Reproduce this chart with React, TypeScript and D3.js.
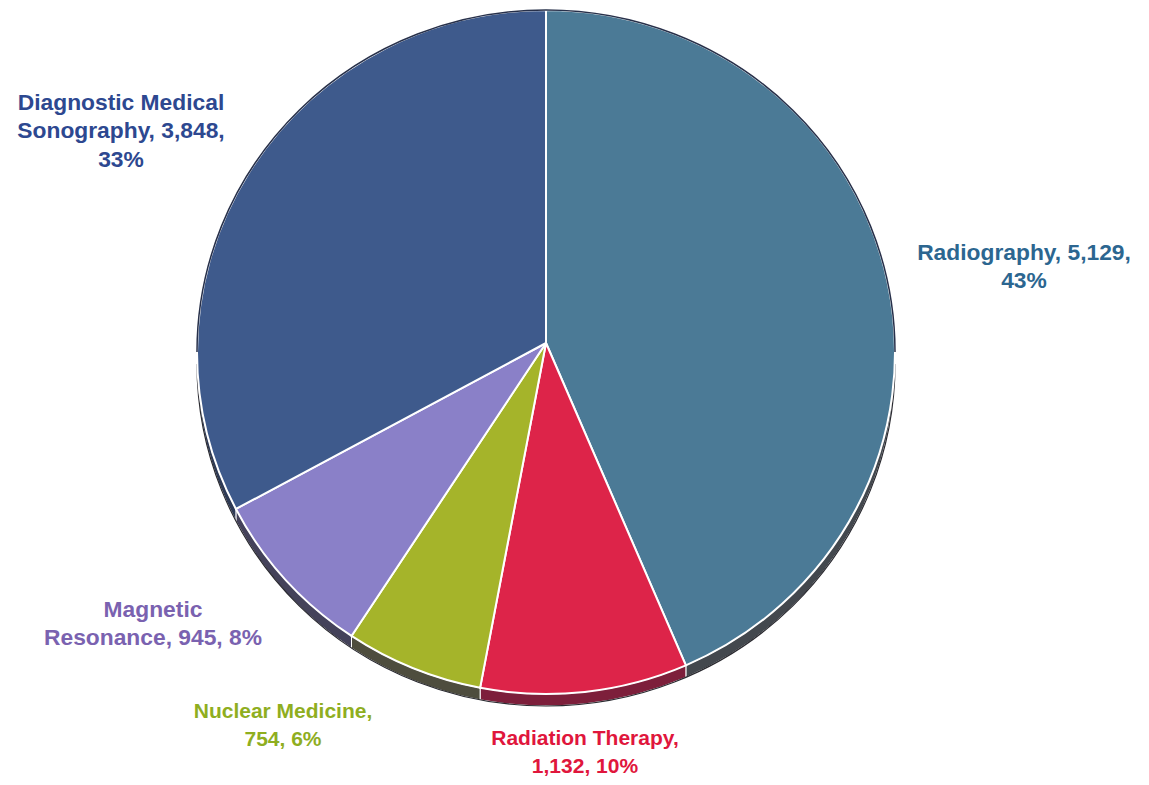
import React from "react";
import * as d3 from "d3";

const categories = ["Radiography", "Radiation Therapy", "Nuclear Medicine", "Magnetic Resonance", "Diagnostic Medical Sonography"];
const values = [5129, 1132, 754, 945, 3848];

// styles / layout (not data)
const faceColors = ["#4b7a96", "#dd2449", "#a5b42a", "#8a80c8", "#3e5a8c"];
const sideColors = ["#43484e", "#7d1f3b", "#4e4d3e", "#44425a", "#2e3a55"];
const labelColors = ["#2c6690", "#e0163c", "#8fae1f", "#7a62b0", "#2d4890"];
const labelBreaks = [[2, 1], [2, 2], [2, 2], [1, 3], [2, 2, 1]];
const labelSizes = [22.8, 21, 21, 22.8, 22.8];
const labelPos: [number, number][] = [[1024, 260], [585, 745], [283, 718], [153, 617], [121, 110]];

const W = 1149, H = 785;
const cx = 546, cy = 352, rx = 349, ry = 342;
const apex: [number, number] = [546, 343];
const depth = 12;

const pt = (t: number, dy = 0): [number, number] => [cx + rx * Math.sin(t), cy + dy - ry * Math.cos(t)];

export default function App() {
  const total = d3.sum(values);
  const pie = d3.pie<number>().sort(null).startAngle(0).endAngle(2 * Math.PI);
  const arcs = pie(values);
  const fmt = d3.format(",");

  const facePath = (a0: number, a1: number) => {
    const p0 = pt(a0), p1 = pt(a1);
    const large = a1 - a0 > Math.PI ? 1 : 0;
    return `M${apex[0]},${apex[1]}L${p0[0]},${p0[1]}A${rx},${ry} 0 ${large} 1 ${p1[0]},${p1[1]}Z`;
  };

  const sidePath = (a0: number, a1: number) => {
    const s = Math.max(a0, Math.PI / 2), e = Math.min(a1, (3 * Math.PI) / 2);
    if (e <= s) return null;
    const p0 = pt(s), p1 = pt(e), q1 = pt(e, depth), q0 = pt(s, depth);
    return `M${p0[0]},${p0[1]}A${rx},${ry} 0 0 1 ${p1[0]},${p1[1]}L${q1[0]},${q1[1]}A${rx},${ry} 0 0 0 ${q0[0]},${q0[1]}Z`;
  };

  const upperOutline = (() => {
    const l = pt(-Math.PI / 2), r = pt(Math.PI / 2);
    return `M${l[0]},${l[1]}A${rx},${ry} 0 0 1 ${r[0]},${r[1]}`;
  })();
  const lowerOutline = (() => {
    const l = pt(-Math.PI / 2, depth), r = pt(Math.PI / 2, depth);
    return `M${r[0]},${r[1]}A${rx},${ry} 0 0 1 ${l[0]},${l[1]}`;
  })();

  return (
    <svg width={W} height={H} style={{ position: "absolute", left: 0, top: 0, background: "#fff" }}>
      <rect width={W} height={H} fill="#fff" />
      {arcs.map((a, i) => {
        const d = sidePath(a.startAngle, a.endAngle);
        return d ? <path key={"s" + i} d={d} fill={sideColors[i]} stroke="#fff" strokeWidth={1} /> : null;
      })}
      <path d={lowerOutline} fill="none" stroke="#2a2a30" strokeWidth={1.2} />
      {arcs.map((a, i) => (
        <path key={"f" + i} d={facePath(a.startAngle, a.endAngle)} fill={faceColors[i]} stroke="#fff" strokeWidth={2} strokeLinejoin="round" />
      ))}
      <path d={upperOutline} fill="none" stroke="#27304a" strokeWidth={1.5} />
      {arcs.map((a, i) => {
        const pct = Math.round((values[i] / total) * 100);
        const words = `${categories[i]}, ${fmt(values[i])}, ${pct}%`.split(" ");
        const lines: string[] = [];
        let k = 0;
        for (const n of labelBreaks[i]) {
          lines.push(words.slice(k, k + n).join(" "));
          k += n;
        }
        const [lx, ly] = labelPos[i];
        return (
          <text key={"l" + i} x={lx} y={ly} textAnchor="middle" fill={labelColors[i]}
            style={{ fontFamily: "'Liberation Sans', Arial, sans-serif", fontWeight: 700, fontSize: labelSizes[i] }}>
            {lines.map((ln, j) => (
              <tspan key={j} x={lx} y={ly + j * 28.3}>{ln}</tspan>
            ))}
          </text>
        );
      })}
    </svg>
  );
}
